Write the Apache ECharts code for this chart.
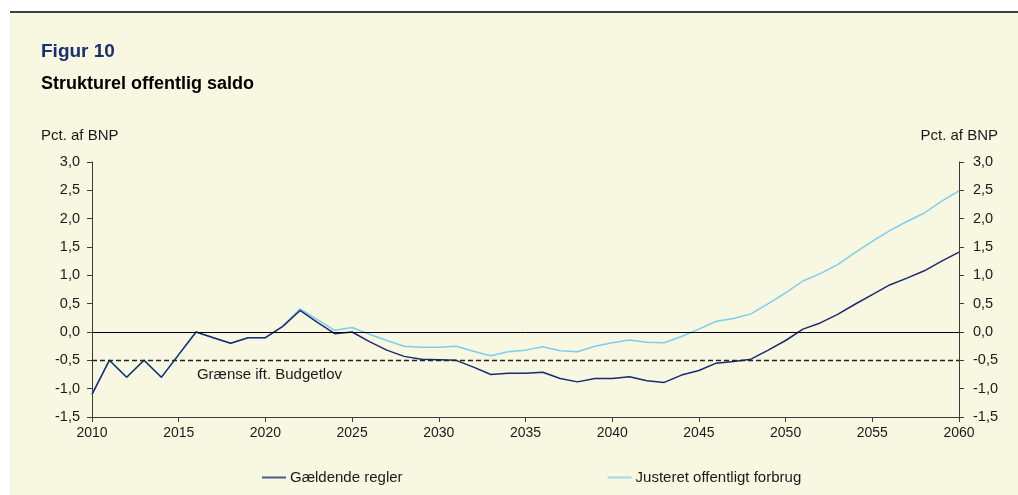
<!DOCTYPE html>
<html>
<head>
<meta charset="utf-8">
<script src="https://cdn.jsdelivr.net/npm/echarts@6/dist/echarts.min.js"></script>
<style>
  html, body { margin: 0; padding: 0; background: #ffffff; }
  #chart { width: 1018px; height: 495px; }
</style>
</head>
<body>
<div id="chart"></div>
<script>
const years = [
  2010, 2011, 2012, 2013, 2014, 2015, 2016, 2017, 2018, 2019,
  2020, 2021, 2022, 2023, 2024, 2025, 2026, 2027, 2028, 2029,
  2030, 2031, 2032, 2033, 2034, 2035, 2036, 2037, 2038, 2039,
  2040, 2041, 2042, 2043, 2044, 2045, 2046, 2047, 2048, 2049,
  2050, 2051, 2052, 2053, 2054, 2055, 2056, 2057, 2058, 2059,
  2060,
];

// Gældende regler
const currentRules = [
  -1.1, -0.5, -0.8, -0.5, -0.8, -0.4, 0.0, -0.1, -0.2, -0.1,
  -0.1, 0.1, 0.38, 0.17, -0.03, 0.0, -0.17, -0.32, -0.43, -0.48,
  -0.49, -0.5, -0.62, -0.75, -0.73, -0.73, -0.71, -0.82, -0.88, -0.82,
  -0.82, -0.79, -0.86, -0.89, -0.76, -0.68, -0.55, -0.52, -0.48, -0.32,
  -0.15, 0.05, 0.16, 0.31, 0.49, 0.66, 0.83, 0.95, 1.08, 1.25,
  1.41,
];

// Justeret offentligt forbrug
const adjustedSpending = [
  -1.1, -0.5, -0.8, -0.5, -0.8, -0.4, 0.0, -0.1, -0.2, -0.1,
  -0.1, 0.1, 0.41, 0.22, 0.03, 0.08, -0.04, -0.15, -0.25, -0.27,
  -0.27, -0.25, -0.34, -0.42, -0.35, -0.32, -0.26, -0.33, -0.35, -0.25,
  -0.19, -0.14, -0.18, -0.19, -0.08, 0.05, 0.19, 0.24, 0.32, 0.5,
  0.69, 0.9, 1.03, 1.19, 1.4, 1.6, 1.79, 1.95, 2.1, 2.31,
  2.49,
];

const budgetLimit = -0.5;
const limitLabel = 'Grænse ift. Budgetlov';
const axisName = 'Pct. af BNP';

const font = '"Liberation Sans", Arial, sans-serif';
const textColor = '#1a1a1a';
const axisColor = '#3a3a3a';

const chart = echarts.init(document.getElementById('chart'), null, { renderer: 'canvas' });

function pairs(values) {
  return years.map((year, i) => [year, values[i]]);
}

function formatValue(value) {
  return value.toFixed(1).replace('.', ',');
}

function yAxis(position, margin) {
  return {
    type: 'value',
    position,
    min: -1.5,
    max: 3.0,
    interval: 0.5,
    axisLine: { show: true, lineStyle: { color: axisColor, width: 1 } },
    axisTick: { show: true, length: 5, lineStyle: { color: axisColor } },
    axisLabel: {
      color: textColor,
      fontFamily: font,
      fontSize: 14.5,
      margin,
      formatter: formatValue,
    },
    splitLine: { show: false },
  };
}

chart.setOption({
  backgroundColor: '#ffffff',
  animation: false,
  textStyle: { fontFamily: font },
  grid: { left: 92, right: 59, top: 162, bottom: 78 },
  legend: {
    left: 257,
    top: 465,
    icon: 'rect',
    itemWidth: 24,
    itemHeight: 2,
    itemGap: 205,
    data: ['Gældende regler', 'Justeret offentligt forbrug'],
    textStyle: { color: textColor, fontFamily: font, fontSize: 15, padding: [0, 0, 0, -1] },
  },
  xAxis: {
    type: 'value',
    min: 2010,
    max: 2060,
    interval: 5,
    axisLine: { show: true, onZero: false, lineStyle: { color: axisColor, width: 1 } },
    axisTick: { show: true, length: 5, lineStyle: { color: axisColor } },
    axisLabel: {
      color: textColor,
      fontFamily: font,
      fontSize: 14,
      margin: 9,
      formatter: (value) => String(value),
    },
    splitLine: { show: false },
  },
  yAxis: [yAxis('left', 12), yAxis('right', 14)],
  graphic: [
    { id: 'bg', type: 'rect', shape: { x: 10, y: 12, width: 1008, height: 483 }, style: { fill: '#f8f7e1' }, z: -10 },
    { id: 'topLine', type: 'line', shape: { x1: 10, y1: 12, x2: 1018, y2: 12 }, style: { stroke: '#000000', lineWidth: 1.5 } },
    { id: 'fig', type: 'text', x: 41, y: 52, style: { text: 'Figur 10', fill: '#1b2f6e', font: 'bold 19px ' + font, verticalAlign: 'middle' } },
    { id: 'title', type: 'text', x: 41, y: 84, style: { text: 'Strukturel offentlig saldo', fill: '#000000', font: 'bold 18px ' + font, verticalAlign: 'middle' } },
    { id: 'nameL', type: 'text', x: 41, y: 136, style: { text: axisName, fill: textColor, font: '15px ' + font, verticalAlign: 'middle' } },
    { id: 'nameR', type: 'text', x: 998, y: 136, style: { text: axisName, fill: textColor, font: '15px ' + font, verticalAlign: 'middle', align: 'right' } },
  ],
  series: [
    {
      name: 'Justeret offentligt forbrug',
      type: 'line',
      data: pairs(adjustedSpending),
      showSymbol: false,
      lineStyle: { color: '#7fcdec', width: 1.5 },
      itemStyle: { color: '#9ed8ee' },
      z: 3,
    },
    {
      name: 'Gældende regler',
      type: 'line',
      data: pairs(currentRules),
      showSymbol: false,
      lineStyle: { color: '#1c2a6e', width: 1.5 },
      itemStyle: { color: '#4a5a8c' },
      z: 4,
      markLine: {
        silent: true,
        symbol: 'none',
        label: { show: false },
        data: [
          { yAxis: 0, lineStyle: { color: '#000000', type: 'solid', width: 1 } },
          { yAxis: budgetLimit, lineStyle: { color: '#222222', type: [5, 3], width: 1.3 } },
        ],
      },
    },
  ],
});

// text under the dashed line, placed by the chart's own scales
const labelPos = chart.convertToPixel({ xAxisIndex: 0, yAxisIndex: 0 }, [2016.05, budgetLimit]);
chart.setOption({
  graphic: [
    {
      id: 'limitLabel',
      type: 'text',
      x: labelPos[0],
      y: labelPos[1] + 15,
      style: { text: limitLabel, fill: textColor, font: '15px ' + font, verticalAlign: 'middle' },
    },
  ],
});
</script>
</body>
</html>
